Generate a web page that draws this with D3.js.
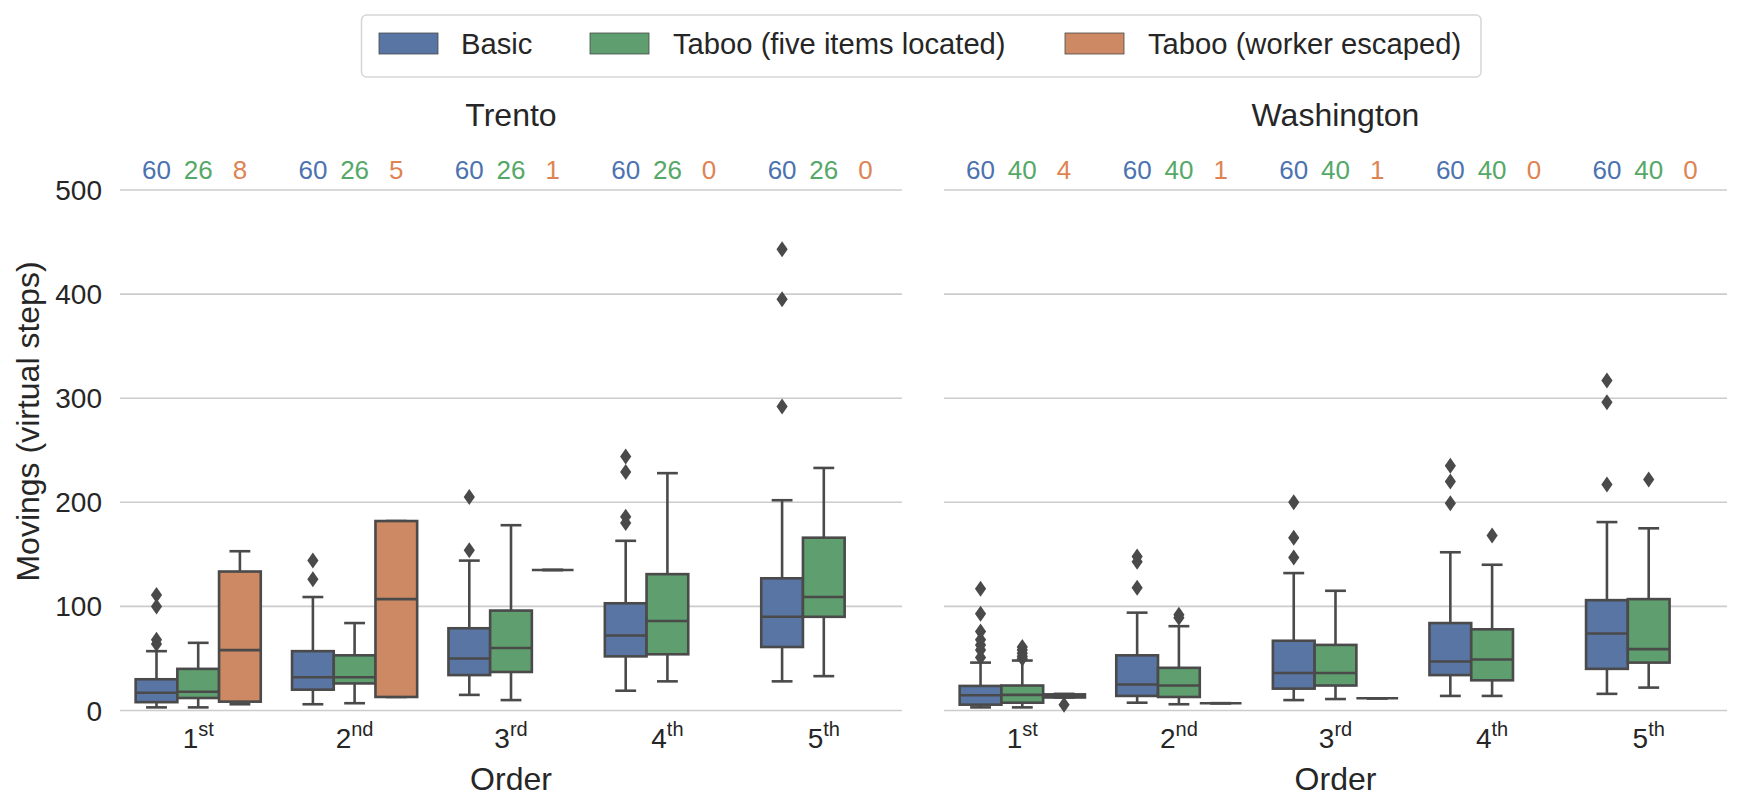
<!DOCTYPE html>
<html>
<head>
<meta charset="utf-8">
<script src="https://cdn.jsdelivr.net/npm/d3@7"></script>
<style>
  html, body { margin: 0; padding: 0; background: #ffffff; }
  svg { display: block; }
  text { font-family: "Liberation Sans", Arial, sans-serif; }
</style>
</head>
<body>
<svg id="chart" width="1752" height="812"></svg>
<script>
// ---------------- data ----------------
const panels = ["Trento", "Washington"];
const orders = ["1", "2", "3", "4", "5"];
const orderSup = ["st", "nd", "rd", "th", "th"];
const hues = ["Basic", "Taboo (five items located)", "Taboo (worker escaped)"];
const yTicks = [0, 100, 200, 300, 400, 500];

// counts shown above each group: [Basic, Five items, Escaped]
const trentoCounts = [[60, 26, 8], [60, 26, 5], [60, 26, 1], [60, 26, 0], [60, 26, 0]];
const washingtonCounts = [[60, 40, 4], [60, 40, 1], [60, 40, 1], [60, 40, 0], [60, 40, 0]];

// box stats per order: [whiskerLow, Q1, median, Q3, whiskerHigh]
const trentoBasic = [[3, 8, 17, 30, 57], [6, 20, 32, 57, 109], [15, 34, 50, 79, 144], [19, 52, 72, 103, 163], [28, 61, 90, 127, 202]];
const trentoBasicOut = [[111, 100, 68, 64], [144, 126], [205, 154], [244, 229, 186, 180], [443, 395, 292]];
const trentoFive = [[3, 12, 18, 40, 65], [7, 26, 32, 53, 84], [10, 37, 60, 96, 178], [28, 54, 86, 131, 228], [33, 90, 109, 166, 233]];
const trentoFiveOut = [[], [], [], [], []];
const trentoEscaped = [[6, 8.5, 58, 133.5, 153], [13, 13, 107, 182, 182], [135, 135, 135, 135, 135], null, null];
const trentoEscapedOut = [[], [], [], [], []];

const washingtonBasic = [[3, 5.6, 14.6, 23.6, 46], [7.5, 14, 25, 53, 94], [10, 21, 36, 67, 132], [14, 34, 47, 84, 152], [16, 40, 74, 106, 181]];
const washingtonBasicOut = [[117, 93, 76, 68, 63, 58, 51], [148, 143, 118], [200, 166, 147], [235, 220, 199], [317, 296, 217]];
const washingtonFive = [[3, 7.5, 15, 24, 48], [6, 13, 24, 41, 81], [11, 24, 36, 63, 115], [14, 29, 49, 78, 140], [22, 46, 59, 107, 175]];
const washingtonFiveOut = [[61, 58, 55, 52, 50], [92, 89], [], [168], [222]];
const washingtonEscaped = [[12.5, 12.5, 14, 15.5, 16], [7, 7, 7, 7, 7], [11.7, 11.7, 11.7, 11.7, 11.7], null, null];
const washingtonEscapedOut = [[5.5], [], [], [], []];

// ---------------- styles ----------------
const boxColors = ["#5875a4", "#5f9e6e", "#cc8963"];
const textColors = ["#4c72b0", "#55a868", "#dd8452"];
const lineColor = "#4a4a4a";
const gridColor = "#cccccc";
const inkColor = "#262626";

const panelData = [
  { name: panels[0], counts: trentoCounts,
    stats: [trentoBasic, trentoFive, trentoEscaped],
    outs: [trentoBasicOut, trentoFiveOut, trentoEscapedOut], x0: 120, x1: 902 },
  { name: panels[1], counts: washingtonCounts,
    stats: [washingtonBasic, washingtonFive, washingtonEscaped],
    outs: [washingtonBasicOut, washingtonFiveOut, washingtonEscapedOut], x0: 944, x1: 1727 }
];

const svg = d3.select("#chart");
const y = d3.scaleLinear().domain([0, 500]).range([710.5, 190]);

panelData.forEach((p, pi) => {
  const g = svg.append("g");
  const x = d3.scaleBand().domain(orders).range([p.x0, p.x1]).paddingInner(0).paddingOuter(0);
  const bw = x.bandwidth();
  const hx = d3.scaleBand().domain(hues).range([0.1 * bw, 0.9 * bw]);
  const w = hx.bandwidth();

  // grid
  g.selectAll("line.grid").data(yTicks).enter().append("line")
    .attr("x1", p.x0).attr("x2", p.x1)
    .attr("y1", d => y(d)).attr("y2", d => y(d))
    .attr("stroke", gridColor).attr("stroke-width", 1.6);

  // y tick labels only on first panel
  if (pi === 0) {
    g.selectAll("text.ytick").data(yTicks).enter().append("text")
      .attr("x", 102).attr("y", d => y(d) + 10)
      .attr("text-anchor", "end").attr("font-size", 28).attr("fill", inkColor)
      .text(d => d);
  }

  // title
  g.append("text").attr("x", (p.x0 + p.x1) / 2).attr("y", 126)
    .attr("text-anchor", "middle").attr("font-size", 32).attr("fill", inkColor)
    .text(p.name);

  // x label
  g.append("text").attr("x", (p.x0 + p.x1) / 2).attr("y", 790)
    .attr("text-anchor", "middle").attr("font-size", 32).attr("fill", inkColor)
    .text("Order");

  // x tick labels
  orders.forEach((o, i) => {
    const t = g.append("text").attr("x", x(o) + bw / 2).attr("y", 748)
      .attr("text-anchor", "middle").attr("font-size", 28).attr("fill", inkColor);
    t.append("tspan").text(o);
    t.append("tspan").attr("font-size", 20).attr("dy", -12).text(orderSup[i]);
  });

  // counts
  orders.forEach((o, i) => {
    hues.forEach((h, hi) => {
      g.append("text").attr("x", x(o) + hx(h) + w / 2).attr("y", 179)
        .attr("text-anchor", "middle").attr("font-size", 26).attr("fill", textColors[hi])
        .text(p.counts[i][hi]);
    });
  });

  // boxes
  orders.forEach((o, i) => {
    hues.forEach((h, hi) => {
      const s = p.stats[hi][i];
      if (!s) return;
      const left = x(o) + hx(h);
      const cx = left + w / 2;
      const [wl, q1, med, q3, wh] = s;
      const bg = g.append("g");
      // whiskers
      bg.append("line").attr("x1", cx).attr("x2", cx).attr("y1", y(q3)).attr("y2", y(wh))
        .attr("stroke", lineColor).attr("stroke-width", 2.6);
      bg.append("line").attr("x1", cx).attr("x2", cx).attr("y1", y(q1)).attr("y2", y(wl))
        .attr("stroke", lineColor).attr("stroke-width", 2.6);
      // caps
      [wl, wh].forEach(v => {
        bg.append("line").attr("x1", cx - w / 4).attr("x2", cx + w / 4)
          .attr("y1", y(v)).attr("y2", y(v))
          .attr("stroke", lineColor).attr("stroke-width", 2.6);
      });
      // box
      bg.append("rect").attr("x", left).attr("y", y(q3)).attr("width", w)
        .attr("height", Math.max(0, y(q1) - y(q3)))
        .attr("fill", boxColors[hi]).attr("stroke", lineColor).attr("stroke-width", 2.6);
      // median
      bg.append("line").attr("x1", left).attr("x2", left + w)
        .attr("y1", y(med)).attr("y2", y(med))
        .attr("stroke", lineColor).attr("stroke-width", 2.6);
      // outliers
      const outs = p.outs[hi][i] || [];
      bg.selectAll("path.flier").data(outs).enter().append("path")
        .attr("d", d => `M${cx},${y(d) - 8}L${cx + 5.6},${y(d)}L${cx},${y(d) + 8}L${cx - 5.6},${y(d)}Z`)
        .attr("fill", lineColor);
    });
  });
});

// y axis label
svg.append("text").attr("transform", "translate(39,421.5) rotate(-90)")
  .attr("text-anchor", "middle").attr("font-size", 32).attr("fill", inkColor)
  .text("Movings (virtual steps)");

// legend
const lg = svg.append("g");
lg.append("rect").attr("x", 361.5).attr("y", 15).attr("width", 1119.5).attr("height", 62)
  .attr("rx", 5).attr("fill", "#ffffff").attr("stroke", "#d6d6d6").attr("stroke-width", 1.5);
const legendPatchX = [379, 590, 1065];
const legendTextX = [461, 673, 1148];
hues.forEach((h, i) => {
  lg.append("rect").attr("x", legendPatchX[i]).attr("y", 33).attr("width", 59).attr("height", 21)
    .attr("fill", boxColors[i]).attr("stroke", lineColor).attr("stroke-width", 0.8);
  lg.append("text").attr("x", legendTextX[i]).attr("y", 53.5)
    .attr("font-size", 29.2).attr("fill", inkColor).text(h);
});
</script>
</body>
</html>
